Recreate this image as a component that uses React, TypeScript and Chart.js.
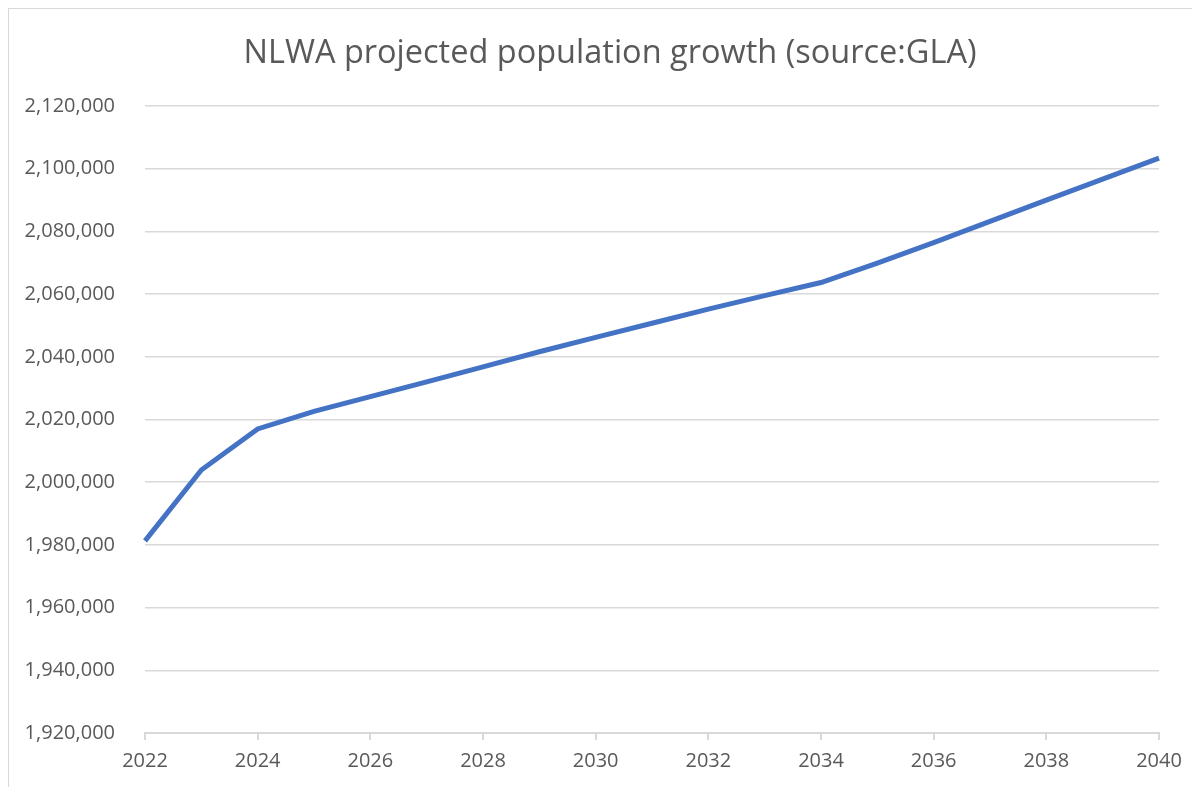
import React, { useEffect, useRef } from "react";
import { Chart, registerables } from "chart.js";

Chart.register(...registerables);

const years: number[] = [2022, 2023, 2024, 2025, 2026, 2027, 2028, 2029, 2030, 2031, 2032, 2033, 2034, 2035, 2036, 2037, 2038, 2039, 2040];
const population: number[] = [1981300, 2003900, 2017000, 2022600, 2027300, 2032000, 2036800, 2041600, 2046200, 2050700, 2055200, 2059500, 2063700, 2069900, 2076400, 2083200, 2090000, 2096700, 2103400];
const titleText = "NLWA projected population growth (source:GLA)";
const yMin = 1920000;
const yMax = 2120000;
const yStep = 20000;
const xStep = 2;

export default function App() {
  const ref = useRef<HTMLCanvasElement | null>(null);
  useEffect(() => {
    document.body.style.overflow = "hidden";
    if (!ref.current) return;
    const chart = new Chart(ref.current, {
      type: "line",
      data: {
        datasets: [
          {
            data: years.map((x, i) => ({ x, y: population[i] })),
            borderColor: "#4472c4",
            backgroundColor: "#4472c4",
            borderWidth: 5,
            pointRadius: 0,
            tension: 0,
            clip: false as any,
          },
        ],
      },
      options: {
        animation: false,
        responsive: false,
        maintainAspectRatio: false,
        layout: { padding: { left: 0, right: 41, top: 97, bottom: 0 } },
        plugins: {
          legend: { display: false },
          tooltip: { enabled: false },
          title: { display: false },
        },
        scales: {
          x: {
            type: "linear",
            min: years[0],
            max: years[years.length - 1],
            afterFit: (s: any) => { s.height = 54; },
            ticks: {
              stepSize: xStep,
              padding: 9,
              color: "#595959",
              font: { family: "'Open Sans'", size: 20 },
              maxRotation: 0,
              callback: (v: any) => String(v),
            },
            grid: {
              drawOnChartArea: false,
              drawTicks: true,
              tickLength: 7,
              color: "#d9d9d9",
              lineWidth: 2,
            },
            border: { display: true, color: "#d9d9d9", width: 2 },
          },
          y: {
            min: yMin,
            max: yMax,
            afterFit: (s: any) => { s.width = 136; },
            ticks: {
              stepSize: yStep,
              padding: 30,
              color: "#595959",
              font: { family: "'Open Sans'", size: 20 },
              callback: (v: any) => Number(v).toLocaleString("en-US"),
            },
            grid: { color: "#d9d9d9", lineWidth: 1.5, drawTicks: false },
            border: { display: false },
          },
        },
      },
    });
    return () => chart.destroy();
  }, []);
  return (
    <div
      style={{
        width: 1191,
        height: 779,
        borderLeft: "1px solid #d9d9d9",
        borderTop: "1px solid #d9d9d9",
        background: "#fff",
      }}
    >
      <div
        style={{
          position: "absolute",
          top: 31,
          left: 610,
          transform: "translateX(-50%)",
          whiteSpace: "nowrap",
          fontFamily: "'Open Sans'",
          fontSize: 32.5,
          lineHeight: "39px",
          color: "#595959",
        }}
      >
        {titleText}
      </div>
      <canvas ref={ref} width={1191} height={778} style={{ display: "block" }} />
    </div>
  );
}
